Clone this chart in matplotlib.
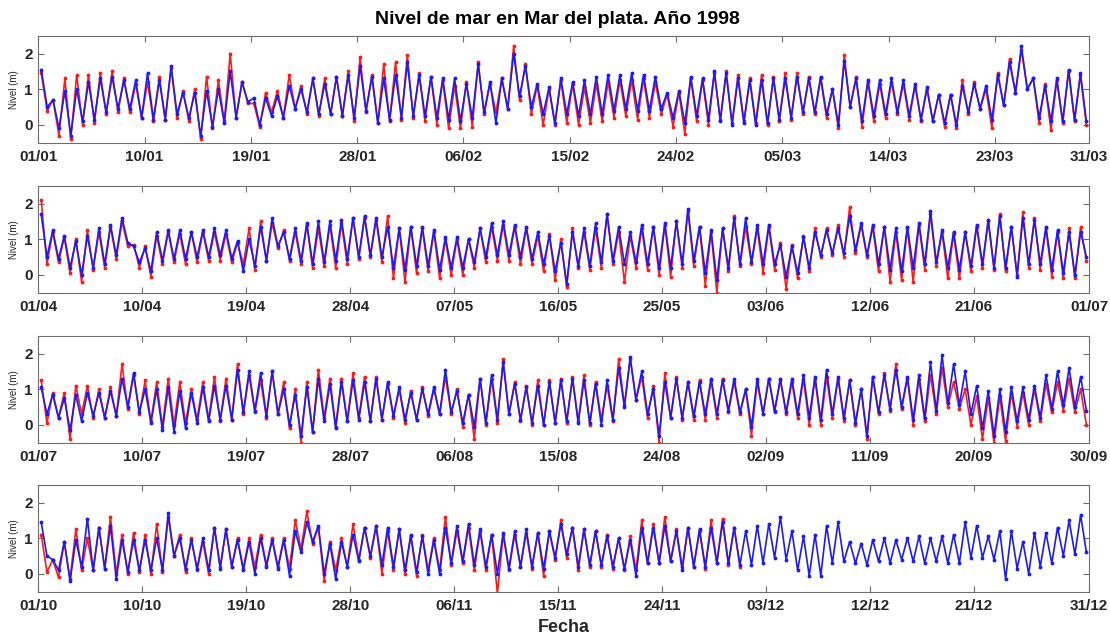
import datetime as dt
import numpy as np
import matplotlib
matplotlib.use("Agg")
import matplotlib.pyplot as plt
import matplotlib.dates as mdates

plt.rcParams['font.family'] = ['Liberation Sans', 'DejaVu Sans']
plt.rcParams['font.weight'] = 'bold'

# ---------------------------------------------------------------------------
# Daily high / low sea level (m), Mar del Plata 1998
# obs = measured (red), mod = model (blue)
# ---------------------------------------------------------------------------
panel_start = ["1998-01-01", "1998-04-01", "1998-07-01", "1998-10-01"]
panel_end = ["1998-03-31", "1998-07-01", "1998-09-30", "1998-12-31"]

tick_labels_q1 = ["01/01", "10/01", "19/01", "28/01", "06/02", "15/02", "24/02", "05/03", "14/03", "23/03", "31/03"]
tick_labels_q2 = ["01/04", "10/04", "19/04", "28/04", "07/05", "16/05", "25/05", "03/06", "12/06", "21/06", "01/07"]
tick_labels_q3 = ["01/07", "10/07", "19/07", "28/07", "06/08", "15/08", "24/08", "02/09", "11/09", "20/09", "30/09"]
tick_labels_q4 = ["01/10", "10/10", "19/10", "28/10", "06/11", "15/11", "24/11", "03/12", "12/12", "21/12", "31/12"]

# January - March
obs_max_q1 = [1.45, 0.7, 1.3, 1.4, 1.4, 1.45, 1.5, 1.3, 1.15, 1.2, 1.35, 1.6, 0.95, 1.0, 1.35, 1.25, 2.0, 1.2, 0.6, 0.9,
              0.95, 1.4, 1.1, 1.3, 1.3, 1.35, 1.5, 1.9, 1.4,
              1.7, 1.75, 1.95, 1.45, 1.35, 1.25, 1.1, 1.2, 1.75, 1.15, 1.3, 2.2, 1.7, 1.1, 1.0, 1.25, 1.15, 1.05, 1.15, 1.2,
              1.25, 1.25, 1.3, 1.2, 0.85, 0.9, 1.3, 1.25, 1.45, 1.5,
              1.4, 1.3, 1.4, 1.35, 1.45, 1.45, 1.35, 1.3, 1.0, 1.95, 1.35, 1.2, 1.15, 1.2, 1.15, 1.1, 1.0, 0.85, 0.85, 1.25,
              1.2, 1.0, 1.45, 1.85, 2.1, 1.3, 1.15, 1.25, 1.5, 1.4]
obs_min_q1 = [0.4, -0.3, -0.4, 0.0, 0.05, 0.3, 0.35, 0.35, 0.2, 0.1, 0.15, 0.2, 0.1, -0.4, -0.1, 0.1, 0.2, 0.6, -0.05, 0.35,
              0.2, 0.45, 0.3, 0.25, 0.3, 0.25, 0.1, 0.35, 0.05,
              0.1, 0.15, 0.2, 0.1, 0.0, -0.1, -0.1, -0.05, 0.3, 0.35, 0.45, 0.7, 0.3, 0.0, 0.0, 0.05, 0.0, 0.05, 0.1, 0.2,
              0.25, 0.15, 0.2, 0.3, -0.05, -0.25, 0.1, 0.0, 0.15, 0.05,
              0.1, 0.05, 0.0, 0.1, 0.15, 0.3, 0.3, 0.2, -0.1, 0.5, -0.05, 0.1, 0.2, 0.3, 0.15, 0.1, 0.1, -0.05, -0.1, 0.3,
              0.45, -0.1, 0.55, 0.9, 1.0, 0.05, -0.15, 0.05, 0.1, 0.0]
mod_max_q1 = [1.55, 0.7, 0.95, 1.0, 1.2, 1.3, 1.35, 1.25, 1.25, 1.45, 1.25, 1.65, 0.9, 0.9, 0.95, 1.0, 1.5, 1.2, 0.75, 0.75,
              0.8, 1.1, 1.0, 1.3, 1.15, 1.35, 1.4, 1.65, 1.35,
              1.3, 1.4, 1.75, 1.4, 1.35, 1.3, 1.3, 1.15, 1.7, 1.2, 1.3, 2.0, 1.65, 1.15, 1.05, 1.3, 1.2, 1.25, 1.35, 1.4,
              1.4, 1.45, 1.4, 1.35, 0.9, 0.95, 1.35, 1.3, 1.5, 1.45,
              1.3, 1.25, 1.25, 1.3, 1.3, 1.35, 1.3, 1.35, 1.0, 1.8, 1.3, 1.25, 1.25, 1.3, 1.25, 1.15, 1.05, 0.85, 0.85, 1.1,
              1.15, 1.1, 1.4, 1.75, 2.2, 1.3, 1.1, 1.3, 1.55, 1.45]
mod_min_q1 = [0.5, -0.1, -0.3, 0.1, 0.15, 0.35, 0.45, 0.45, 0.2, 0.15, 0.15, 0.3, 0.2, -0.3, -0.05, 0.05, 0.2, 0.65, 0.0, 0.25,
              0.2, 0.45, 0.35, 0.3, 0.3, 0.25, 0.2, 0.4, 0.05,
              0.15, 0.2, 0.25, 0.25, 0.2, 0.15, 0.1, 0.2, 0.35, 0.05, 0.45, 0.8, 0.5, 0.3, 0.05, 0.3, 0.25, 0.3, 0.3, 0.4,
              0.45, 0.4, 0.4, 0.45, 0.2, 0.05, 0.25, 0.15, 0.1, 0.0,
              0.05, 0.0, 0.05, 0.15, 0.2, 0.35, 0.35, 0.3, 0.0, 0.5, 0.1, 0.25, 0.3, 0.35, 0.25, 0.15, 0.1, 0.05, 0.0, 0.35,
              0.45, 0.15, 0.55, 0.9, 1.0, 0.2, 0.1, 0.1, 0.15, 0.1]

# April - June
obs_max_q2 = [2.1, 1.2, 1.05, 1.0, 1.25, 1.2, 1.35, 1.5, 0.85, 0.8, 1.1, 1.2, 1.15, 1.2, 1.2, 1.2, 1.15, 0.9, 1.3, 1.5,
              1.45, 1.25, 1.2, 1.4, 1.3, 1.4, 1.45, 1.6, 1.6, 1.55,
              1.65, 1.3, 1.35, 1.3, 1.2, 1.0, 1.0, 1.0, 1.3, 1.35, 1.4, 1.35, 1.3, 1.1, 1.15, 1.0, 1.3, 1.2, 1.3, 1.7,
              1.2, 1.1, 1.3, 1.35, 1.4, 1.5, 1.8, 1.35, 1.2, 1.3, 1.65,
              1.35, 1.3, 1.35, 0.9, 0.85, 1.1, 1.3, 1.3, 1.4, 1.9, 1.4, 1.35, 1.35, 1.2, 1.3, 1.4, 1.7, 1.2, 1.15, 1.2,
              1.35, 1.5, 1.7, 1.35, 1.75, 1.6, 1.3, 1.2, 1.3, 1.35]
obs_min_q2 = [0.3, 0.35, 0.05, -0.2, 0.15, 0.2, 0.45, 0.8, 0.2, -0.05, 0.3, 0.35, 0.3, 0.35, 0.4, 0.4, 0.35, 0.3, 0.15, 0.4,
              0.75, 0.4, 0.3, 0.2, 0.25, 0.2, 0.3, 0.45, 0.5, 0.35,
              -0.1, -0.2, 0.05, 0.1, -0.1, 0.0, 0.0, 0.2, 0.35, 0.4, 0.4, 0.3, 0.3, 0.1, -0.15, -0.35, 0.2, 0.15, 0.2, 0.3,
              -0.2, 0.2, 0.15, 0.0, -0.05, 0.2, 0.25, -0.3, -0.5, 0.1, 0.25,
              0.3, 0.05, 0.15, -0.4, -0.1, 0.1, 0.5, 0.55, 0.5, 0.6, 0.5, 0.1, -0.2, -0.15, -0.2, 0.15, 0.25, -0.1, -0.1, 0.1,
              0.2, 0.15, 0.1, 0.0, 0.2, 0.15, -0.05, -0.1, -0.1, 0.4]
mod_max_q2 = [1.7, 1.25, 1.1, 0.95, 1.1, 1.3, 1.4, 1.6, 0.8, 0.75, 1.2, 1.25, 1.25, 1.2, 1.25, 1.3, 1.25, 0.95, 1.0, 1.35,
              1.6, 1.2, 1.3, 1.45, 1.5, 1.5, 1.55, 1.6, 1.65, 1.6,
              1.35, 1.3, 1.35, 1.35, 1.25, 1.05, 1.05, 1.0, 1.3, 1.45, 1.5, 1.4, 1.35, 1.2, 1.1, 0.9, 1.2, 1.3, 1.45, 1.7,
              1.35, 1.2, 1.4, 1.35, 1.45, 1.5, 1.85, 1.35, 1.25, 1.3, 1.6,
              1.6, 1.4, 1.4, 0.85, 0.8, 1.05, 1.2, 1.25, 1.3, 1.65, 1.45, 1.4, 1.35, 1.3, 1.35, 1.45, 1.8, 1.25, 1.2, 1.2,
              1.4, 1.55, 1.65, 1.35, 1.6, 1.55, 1.35, 1.25, 1.2, 1.2]
mod_min_q2 = [0.5, 0.45, 0.2, 0.0, 0.2, 0.3, 0.55, 0.9, 0.35, 0.1, 0.4, 0.45, 0.45, 0.5, 0.5, 0.55, 0.45, 0.1, 0.25, 0.4,
              0.8, 0.45, 0.4, 0.3, 0.35, 0.4, 0.45, 0.5, 0.55, 0.5,
              0.2, 0.15, 0.25, 0.25, 0.15, 0.2, 0.2, 0.35, 0.5, 0.55, 0.55, 0.5, 0.45, 0.3, 0.1, -0.25, 0.25, 0.25, 0.35, 0.4,
              0.3, 0.35, 0.3, 0.2, 0.2, 0.3, 0.4, 0.05, -0.15, 0.2, 0.3,
              0.35, 0.3, 0.3, -0.05, 0.05, 0.2, 0.55, 0.6, 0.6, 0.7, 0.55, 0.3, 0.15, 0.1, 0.2, 0.3, 0.35, 0.2, 0.15, 0.25,
              0.3, 0.2, 0.2, -0.05, 0.3, 0.3, 0.15, 0.05, 0.0, 0.5]

# July - September
obs_max_q3 = [1.25, 0.9, 0.9, 1.1, 1.1, 1.0, 1.05, 1.7, 1.4, 1.25, 1.2, 1.3, 1.2, 1.0, 1.2, 1.35, 1.3, 1.7, 1.4, 1.25,
              1.5, 1.2, 1.0, 1.2, 1.55, 1.3, 1.3, 1.45, 1.35, 1.35,
              1.15, 1.0, 0.95, 1.05, 1.0, 1.35, 1.0, 0.85, 1.3, 1.3, 1.85, 1.2, 1.1, 1.25, 1.25, 1.3, 1.35, 1.4, 1.2, 1.1,
              1.85, 1.85, 1.35, 1.1, 1.45, 1.35, 1.2, 1.25, 1.25, 1.3, 1.2,
              1.0, 1.2, 1.3, 1.25, 1.2, 1.3, 1.3, 1.35, 1.3, 1.25, 1.0, 1.35, 1.45, 1.7, 1.3, 1.3, 1.4, 1.6, 1.2, 1.0,
              0.8, 0.75, 0.8, 0.9, 0.9, 1.0, 1.15, 1.2, 1.3, 1.0]
obs_min_q3 = [0.05, 0.2, -0.4, 0.3, 0.2, 0.2, 0.25, 0.45, 0.3, 0.1, -0.05, 0.0, 0.05, 0.15, 0.15, 0.1, 0.15, 0.3, 0.35, 0.2,
              0.3, -0.1, -0.5, -0.2, 0.2, -0.05, 0.1, 0.2, 0.1, 0.15,
              0.2, 0.05, 0.15, 0.25, 0.3, 0.3, -0.05, -0.4, 0.0, 0.05, 0.3, 0.1, 0.0, 0.0, 0.05, 0.05, 0.1, 0.0, 0.15, 0.1,
              0.55, 0.7, 0.2, -0.5, 0.2, 0.15, 0.15, 0.15, 0.2, 0.35, 0.3,
              -0.3, 0.3, 0.35, 0.3, 0.2, 0.0, 0.0, 0.2, 0.1, 0.0, -0.4, 0.3, 0.4, 0.45, 0.0, 0.1, 0.3, 0.5, 0.45, 0.0,
              -0.4, -0.5, -0.45, -0.05, 0.0, 0.1, 0.35, 0.4, 0.35, 0.0]
mod_max_q3 = [1.05, 0.85, 0.75, 0.85, 0.9, 0.9, 0.95, 1.3, 1.45, 1.0, 1.0, 1.05, 0.95, 0.9, 1.05, 1.1, 1.1, 1.55, 1.5, 1.45,
              1.5, 1.0, 0.85, 1.05, 1.3, 1.15, 1.2, 1.25, 1.2, 1.3,
              1.2, 1.05, 0.9, 1.0, 1.05, 1.55, 0.95, 0.85, 1.3, 1.4, 1.75, 1.15, 1.05, 1.1, 1.2, 1.25, 1.3, 1.25, 1.15, 1.25,
              1.6, 1.9, 1.5, 1.0, 1.2, 1.3, 1.2, 1.2, 1.3, 1.25, 1.3,
              1.0, 1.3, 1.3, 1.3, 1.3, 1.4, 1.35, 1.55, 1.35, 1.25, 1.0, 1.35, 1.4, 1.55, 1.35, 1.4, 1.75, 1.95, 1.7, 1.5,
              1.1, 0.95, 1.0, 1.05, 1.05, 1.1, 1.4, 1.5, 1.6, 1.35]
mod_min_q3 = [0.3, 0.2, -0.15, 0.1, 0.25, 0.2, 0.25, 0.5, 0.35, 0.05, -0.15, -0.2, -0.1, 0.05, 0.1, 0.15, 0.15, 0.35, 0.4, 0.25,
              0.3, 0.0, -0.3, -0.2, 0.1, -0.1, 0.1, 0.15, 0.1, 0.15,
              0.25, 0.15, 0.15, 0.3, 0.3, 0.35, 0.05, -0.05, 0.05, 0.15, 0.3, 0.15, 0.05, 0.0, 0.05, 0.1, 0.05, 0.05, 0.0, 0.15,
              0.5, 0.7, 0.3, -0.3, 0.2, 0.2, 0.25, 0.3, 0.3, 0.4, 0.35,
              -0.05, 0.3, 0.4, 0.35, 0.3, 0.2, 0.15, 0.3, 0.2, 0.05, -0.3, 0.35, 0.45, 0.5, 0.15, 0.2, 0.4, 0.6, 0.55, 0.3,
              -0.1, -0.3, -0.2, 0.1, 0.15, 0.2, 0.45, 0.55, 0.5, 0.4]

# October - December (measurements end on 30/11)
obs_max_q4 = [1.1, 0.4, 0.9, 1.25, 1.0, 1.3, 1.6, 1.1, 1.15, 1.1, 1.4, 1.6, 1.1, 1.0, 0.9, 1.3, 1.25, 1.0, 1.0, 1.1,
              1.0, 1.0, 1.5, 1.75, 1.3, 0.9, 1.0, 1.4, 1.3, 1.35,
              1.2, 1.25, 1.05, 1.1, 1.0, 1.6, 1.2, 1.3, 1.2, 1.1, 1.1, 1.1, 1.15, 1.15, 1.2, 1.5, 1.3, 1.25, 1.2, 1.1,
              1.0, 1.05, 1.5, 1.4, 1.6, 1.25, 1.3, 1.2, 1.5, 1.55, 1.3]
obs_min_q4 = [0.05, -0.1, -0.15, 0.1, 0.1, 0.15, 0.0, 0.0, 0.05, 0.0, 0.05, 0.5, 0.05, 0.1, 0.0, 0.2, 0.2, 0.15, 0.2, 0.25,
              0.2, 0.15, 0.7, 0.85, -0.2, 0.1, 0.2, 0.4, 0.45, 0.0,
              0.1, 0.0, -0.05, 0.1, 0.1, 0.25, 0.3, 0.1, 0.1, -0.55, 0.1, 0.2, 0.15, -0.05, 0.4, 0.45, 0.1, 0.2, 0.2, 0.15,
              0.1, 0.1, 0.3, 0.3, 0.35, 0.2, 0.2, 0.15, 0.3, 0.25, 0.2]
mod_max_q4 = [1.45, 0.4, 0.9, 0.95, 1.55, 1.3, 1.35, 0.95, 0.95, 0.95, 1.0, 1.7, 1.0, 0.95, 1.0, 1.3, 1.25, 0.95, 0.9, 1.0,
              0.95, 0.95, 1.2, 1.45, 1.35, 0.85, 0.9, 1.1, 1.3, 1.35,
              1.3, 1.25, 1.1, 1.05, 0.95, 1.3, 1.35, 1.4, 1.25, 1.1, 1.15, 1.2, 1.25, 1.15, 1.2, 1.4, 1.3, 1.25, 1.2, 1.05,
              1.0, 0.95, 1.3, 1.3, 1.35, 1.2, 1.3, 1.25, 1.3, 1.45, 1.3,
              1.2, 1.35, 1.4, 1.6, 1.2, 1.05, 1.1, 1.35, 1.45, 0.9, 0.85, 0.95, 1.0, 0.95, 1.0, 1.05, 1.0, 1.05, 1.1, 1.45,
              1.35, 1.05, 1.2, 1.2, 0.9, 1.15, 1.15, 1.3, 1.5, 1.65]
mod_min_q4 = [0.5, 0.1, -0.2, 0.2, 0.1, 0.15, -0.15, 0.05, 0.1, 0.1, 0.1, 0.5, 0.15, 0.15, 0.1, 0.15, 0.2, 0.1, 0.0, 0.2,
              0.15, -0.05, 0.6, 0.9, 0.0, -0.15, 0.2, 0.35, 0.5, 0.25,
              0.2, 0.1, 0.05, 0.0, 0.0, 0.3, 0.35, 0.25, 0.2, 0.0, 0.15, 0.2, 0.2, 0.15, 0.45, 0.55, 0.2, 0.25, 0.25, 0.2,
              0.15, -0.05, 0.3, 0.3, 0.35, 0.1, 0.2, 0.2, 0.3, 0.3, 0.25,
              0.25, 0.3, 0.45, 0.4, 0.1, -0.05, -0.05, 0.3, 0.35, 0.3, 0.25, 0.35, 0.3, 0.4, 0.35, 0.3, 0.35, 0.3, 0.3, 0.45,
              0.45, 0.4, -0.15, 0.15, 0.0, 0.2, 0.3, 0.5, 0.55, 0.6]

panels = [
    (tick_labels_q1, obs_max_q1, obs_min_q1, mod_max_q1, mod_min_q1),
    (tick_labels_q2, obs_max_q2, obs_min_q2, mod_max_q2, mod_min_q2),
    (tick_labels_q3, obs_max_q3, obs_min_q3, mod_max_q3, mod_min_q3),
    (tick_labels_q4, obs_max_q4, obs_min_q4, mod_max_q4, mod_min_q4),
]


def daily_series(start, highs, lows):
    """High water placed at 06 h, low water at 18 h of each day."""
    n = len(highs)
    hours = (np.arange(n)[:, None] * 24 + np.array([6, 18])[None, :]).ravel()
    t = np.datetime64(start) + hours.astype("timedelta64[h]")
    v = np.column_stack([highs, lows]).ravel()
    return t, v


def tick_dates(labels):
    return [mdates.date2num(dt.date(1998, int(s[3:5]), int(s[0:2]))) for s in labels]


W, H = 1110, 635
fig = plt.figure(figsize=(W / 100, H / 100), dpi=100)
left_px, right_px, height_px = 38.3, 1089.3, 107.0
tops_px = [35.7, 185.7, 335.7, 484.7]
frame_col = "#6e6e6e"
text_col = "#262626"

for k, (labels, omax, omin, mmax, mmin) in enumerate(panels):
    ax = fig.add_axes([left_px / W, 1 - (tops_px[k] + height_px) / H,
                       (right_px - left_px) / W, height_px / H])
    t_o, v_o = daily_series(panel_start[k], omax, omin)
    t_m, v_m = daily_series(panel_start[k], mmax, mmin)
    ax.plot(t_o, v_o, color="#ff1a1a", lw=1.2, marker=".", ms=3.5, zorder=2)
    ax.plot(t_m, v_m, color="#1a1aff", lw=1.2, marker=".", ms=3.5, zorder=3)

    ax.set_xlim(mdates.date2num(dt.date.fromisoformat(panel_start[k])),
                mdates.date2num(dt.date.fromisoformat(panel_end[k])))
    ax.set_ylim(-0.5, 2.5)
    ax.set_xticks(tick_dates(labels))
    ax.set_xticklabels(labels)
    ax.set_yticks([0, 1, 2])
    ax.set_yticklabels(["0", "1", "2"])
    ax.tick_params(direction="in", top=True, right=True, length=4, width=0.8,
                   color=frame_col, labelsize=11, labelcolor=text_col, pad=4)
    ax.tick_params(axis="x", pad=5)
    for sp in ax.spines.values():
        sp.set_color(frame_col)
        sp.set_linewidth(0.8)
    ax.set_ylabel("Nivel (m)", fontsize=7, color=text_col, labelpad=4)

fig.text(557 / W, 1 - 20 / H, "Nivel de mar en Mar del plata. Año 1998",
         ha="center", va="center", fontsize=14, color="black")
fig.text((left_px + right_px) / 2 / W, 1 - 627 / H, "Fecha",
         ha="center", va="center", fontsize=13, color=text_col)

fig.savefig("out.png", dpi=100)
